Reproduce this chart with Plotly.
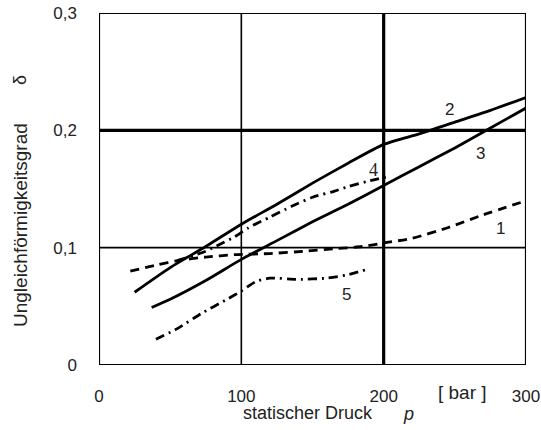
import plotly.graph_objects as go

# static pressure p [bar] and non-uniformity degree delta for each curve
p1 = [22, 40, 55, 75, 95, 120, 145, 165, 185, 200, 220, 245, 270, 300]
d1 = [0.080, 0.085, 0.089, 0.092, 0.094, 0.095, 0.097, 0.099, 0.101, 0.104, 0.108, 0.117, 0.128, 0.140]

p2 = [25, 50, 75, 100, 125, 150, 175, 200, 225, 250, 275, 300]
d2 = [0.062, 0.083, 0.101, 0.120, 0.137, 0.155, 0.172, 0.188, 0.197, 0.207, 0.217, 0.228]

p3 = [37, 50, 75, 100, 125, 150, 175, 200, 225, 250, 275, 300]
d3 = [0.049, 0.056, 0.072, 0.090, 0.106, 0.122, 0.137, 0.153, 0.169, 0.185, 0.202, 0.219]

p4 = [55, 75, 85, 95, 105, 120, 135, 150, 165, 175, 190, 205]
d4 = [0.089, 0.097, 0.103, 0.109, 0.117, 0.126, 0.135, 0.143, 0.148, 0.152, 0.157, 0.161]

p5 = [40, 55, 72, 90, 100, 110, 120, 140, 160, 175, 187]
d5 = [0.022, 0.031, 0.044, 0.056, 0.063, 0.071, 0.074, 0.073, 0.074, 0.077, 0.081]

x_ticks = [0, 100, 200, 300]
x_ticktext = ["0", "100", "200", "300"]
y_ticks = [0, 0.1, 0.2, 0.3]
y_ticktext = ["0", "0,1", "0,2", "0,3"]

# curve number labels: (text, p, delta, font)
curve_labels = [
    ("1", 282, 0.116, "Liberation Sans"),
    ("2", 246, 0.218, "Liberation Sans"),
    ("3", 268, 0.180, "Liberation Sans"),
    ("4", 193, 0.166, "Liberation Serif"),
    ("5", 174, 0.060, "Liberation Sans"),
]

INK = "black"
TXT = "#222"
LW = 2.8
W, H = 541, 430
ML, MR, MT, MB = 99, 15, 13, 65

fig = go.Figure()

series = [
    (p1, d1, "9px,6px"),
    (p2, d2, "solid"),
    (p3, d3, "solid"),
    (p4, d4, "9px,5px,2px,5px"),
    (p5, d5, "9px,5px,2px,5px"),
]
for xs, ys, dash in series:
    fig.add_trace(go.Scatter(
        x=xs, y=ys, mode="lines",
        line=dict(color=INK, width=LW, dash=dash, shape="spline", smoothing=0.6),
        showlegend=False, hoverinfo="skip",
    ))

# grid lines: thin at 100 / 0,1, heavy at 200 / 0,2
for xv, w in [(100, 1.6), (200, 3.2)]:
    fig.add_shape(type="line", xref="x", yref="y", x0=xv, x1=xv, y0=0, y1=0.3,
                  line=dict(color=INK, width=w), layer="below")
for yv, w in [(0.1, 1.6), (0.2, 3.2)]:
    fig.add_shape(type="line", xref="x", yref="y", x0=0, x1=300, y0=yv, y1=yv,
                  line=dict(color=INK, width=w), layer="below")
# frame
fig.add_shape(type="rect", xref="x", yref="y", x0=0, x1=300, y0=0, y1=0.3,
              line=dict(color=INK, width=2.2), layer="above")

for txt, xv, yv, fam in curve_labels:
    fig.add_annotation(x=xv, y=yv, text=txt, showarrow=False,
                       xanchor="center", yanchor="middle",
                       font=dict(family=fam, size=18 if fam.endswith("Serif") else 17, color=TXT))


def page_text(px, py, text, size=18, angle=0):
    """Text placed by page pixel position (centre of the text)."""
    fig.add_annotation(
        xref="paper", yref="paper",
        x=(px - ML) / (W - ML - MR), y=1 - (py - MT) / (H - MT - MB),
        xanchor="center", yanchor="middle", text=text, textangle=angle,
        showarrow=False, font=dict(family="Liberation Sans", size=size, color=TXT),
    )


page_text(462, 392, "[ bar ]", 19)
page_text(308, 413, "statischer Druck", 18)
page_text(408, 414, "<i>p</i>", 18)
page_text(20, 225, "Ungleichförmigkeitsgrad", 19, -90)
page_text(20, 80, "δ", 18, -90)

fig.update_layout(
    width=W, height=H,
    margin=dict(l=ML, r=MR, t=MT, b=MB, pad=0),
    paper_bgcolor="white", plot_bgcolor="white",
    font=dict(family="Liberation Sans", size=17, color=TXT),
    xaxis=dict(range=[0, 300], tickvals=x_ticks, ticktext=x_ticktext, showgrid=False,
               zeroline=False, showline=False, ticks="", ticklabelstandoff=19,
               automargin=False, tickfont=dict(size=17, color=TXT)),
    yaxis=dict(range=[0, 0.3], tickvals=y_ticks, ticktext=y_ticktext, showgrid=False,
               zeroline=False, showline=False, ticks="", ticklabelstandoff=21,
               automargin=False, tickfont=dict(size=17, color=TXT)),
)

fig.write_html("out.html")
